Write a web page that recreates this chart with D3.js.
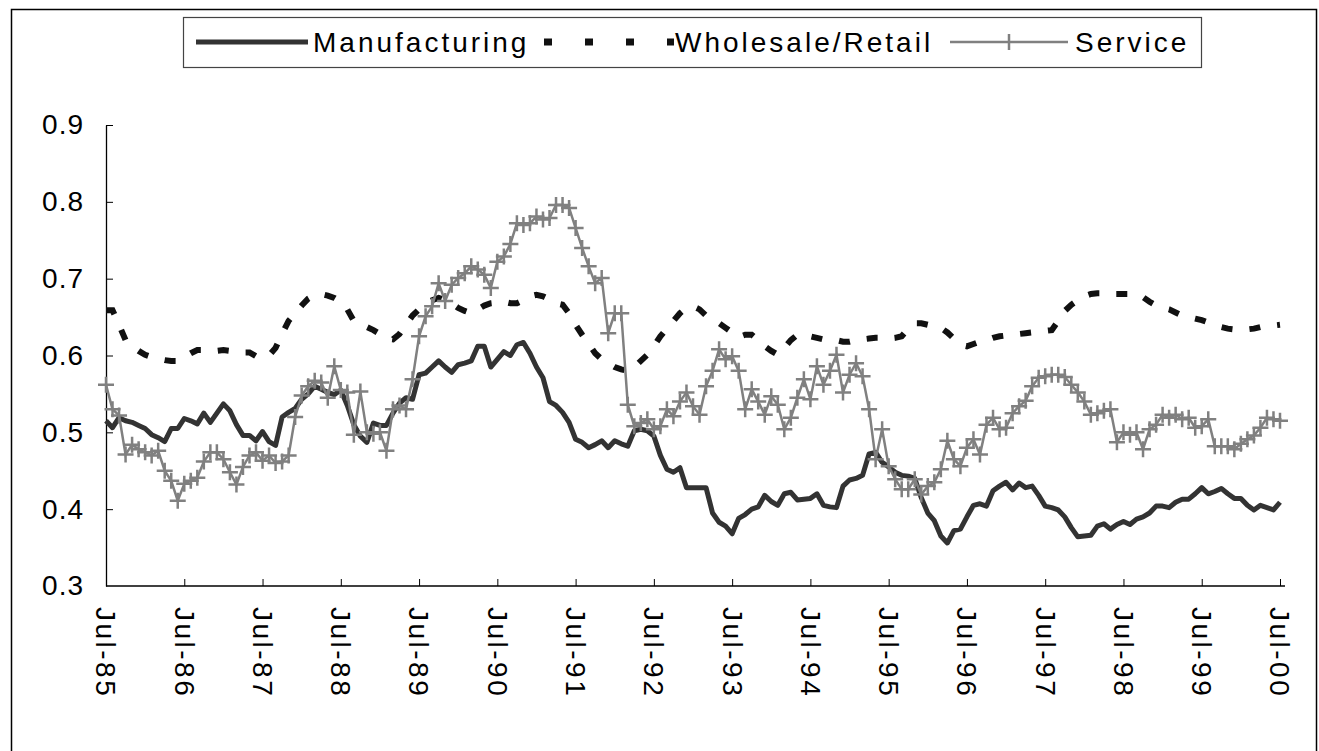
<!DOCTYPE html>
<html>
<head>
<meta charset="utf-8">
<script src="https://cdn.jsdelivr.net/npm/d3@7"></script>
<style>
  body { margin: 0; background: #fff; }
  svg text { font-family: "Liberation Sans", Arial, sans-serif; fill: #000; }
</style>
</head>
<body>
<div id="chart"></div>
<script>
// monthly values, Jul-85 .. Jul-00
var yearLabels = ["Jul-85","Jul-86","Jul-87","Jul-88","Jul-89","Jul-90","Jul-91","Jul-92",
                  "Jul-93","Jul-94","Jul-95","Jul-96","Jul-97","Jul-98","Jul-99","Jul-00"];
var yTicks = [0.3, 0.4, 0.5, 0.6, 0.7, 0.8, 0.9];

var manufacturing = [
  0.515,0.506,0.519,0.515,0.513,0.509,0.505,0.497,0.493,0.488,
  0.505,0.505,0.518,0.515,0.511,0.525,0.513,0.525,0.537,0.528,
  0.510,0.496,0.496,0.489,0.501,0.488,0.483,0.520,0.526,0.531,
  0.543,0.550,0.560,0.556,0.552,0.549,0.555,0.535,0.510,0.495,
  0.487,0.512,0.509,0.509,0.525,0.538,0.545,0.543,0.575,0.577,
  0.585,0.593,0.585,0.578,0.588,0.590,0.593,0.612,0.612,0.585,
  0.595,0.605,0.600,0.614,0.617,0.603,0.585,0.571,0.540,0.535,
  0.526,0.513,0.491,0.487,0.480,0.484,0.489,0.480,0.489,0.485,
  0.482,0.502,0.504,0.502,0.495,0.470,0.452,0.448,0.454,0.428,
  0.428,0.428,0.428,0.395,0.383,0.378,0.368,0.388,0.393,0.400,
  0.403,0.418,0.410,0.405,0.420,0.422,0.412,0.413,0.414,0.420,
  0.405,0.403,0.402,0.430,0.438,0.440,0.444,0.472,0.474,0.461,
  0.455,0.448,0.444,0.443,0.440,0.415,0.395,0.385,0.365,0.356,
  0.372,0.374,0.390,0.405,0.407,0.404,0.424,0.430,0.435,0.425,
  0.434,0.428,0.430,0.418,0.404,0.402,0.399,0.390,0.376,0.364,
  0.365,0.366,0.378,0.381,0.374,0.380,0.384,0.380,0.387,0.390,
  0.395,0.404,0.404,0.402,0.409,0.413,0.413,0.420,0.428,0.420,
  0.423,0.427,0.420,0.414,0.414,0.405,0.399,0.405,0.402,0.399,
  0.409
];

var wholesaleRetail = [
  0.659,0.659,0.640,0.620,0.612,0.606,0.601,0.598,0.596,0.594,
  0.593,0.593,0.598,0.603,0.607,0.607,0.606,0.606,0.607,0.606,
  0.605,0.604,0.604,0.599,0.598,0.600,0.610,0.628,0.645,0.655,
  0.665,0.674,0.679,0.680,0.678,0.675,0.670,0.660,0.645,0.640,
  0.637,0.633,0.628,0.622,0.621,0.628,0.640,0.652,0.660,0.668,
  0.672,0.675,0.672,0.668,0.662,0.658,0.655,0.660,0.665,0.668,
  0.669,0.670,0.668,0.668,0.672,0.677,0.679,0.677,0.673,0.668,
  0.666,0.655,0.640,0.627,0.615,0.603,0.595,0.590,0.585,0.582,
  0.580,0.585,0.593,0.601,0.612,0.625,0.635,0.645,0.655,0.662,
  0.664,0.660,0.652,0.646,0.642,0.636,0.630,0.624,0.627,0.627,
  0.620,0.612,0.606,0.601,0.610,0.620,0.627,0.627,0.625,0.623,
  0.621,0.621,0.620,0.618,0.618,0.620,0.621,0.622,0.623,0.623,
  0.622,0.623,0.625,0.635,0.642,0.642,0.640,0.638,0.636,0.630,
  0.622,0.614,0.612,0.615,0.618,0.620,0.623,0.625,0.626,0.627,
  0.628,0.629,0.630,0.631,0.632,0.633,0.645,0.658,0.666,0.672,
  0.677,0.680,0.681,0.681,0.680,0.680,0.680,0.680,0.679,0.676,
  0.670,0.665,0.662,0.660,0.656,0.652,0.650,0.648,0.646,0.643,
  0.640,0.637,0.635,0.634,0.634,0.634,0.635,0.637,0.638,0.639,
  0.640
];

var service = [
  0.562,0.530,0.522,0.471,0.484,0.478,0.474,0.470,0.476,0.450,
  0.437,0.411,0.433,0.437,0.441,0.462,0.474,0.474,0.465,0.448,
  0.432,0.455,0.470,0.474,0.463,0.470,0.460,0.462,0.470,0.520,
  0.548,0.560,0.567,0.565,0.545,0.586,0.555,0.552,0.497,0.553,
  0.500,0.498,0.500,0.476,0.530,0.535,0.530,0.569,0.625,0.651,
  0.664,0.694,0.671,0.692,0.701,0.707,0.716,0.712,0.705,0.688,
  0.722,0.729,0.745,0.772,0.770,0.772,0.781,0.777,0.779,0.796,
  0.796,0.792,0.766,0.740,0.716,0.694,0.701,0.629,0.655,0.655,
  0.536,0.508,0.512,0.517,0.504,0.508,0.530,0.521,0.540,0.552,
  0.534,0.523,0.560,0.580,0.608,0.595,0.599,0.580,0.530,0.556,
  0.540,0.523,0.547,0.536,0.504,0.519,0.545,0.569,0.543,0.586,
  0.562,0.580,0.601,0.552,0.575,0.590,0.573,0.530,0.465,0.504,
  0.456,0.439,0.426,0.426,0.439,0.419,0.430,0.435,0.452,0.489,
  0.465,0.456,0.480,0.491,0.471,0.510,0.519,0.504,0.506,0.525,
  0.534,0.541,0.560,0.571,0.573,0.575,0.575,0.572,0.562,0.552,
  0.540,0.523,0.525,0.528,0.530,0.487,0.500,0.497,0.500,0.478,
  0.504,0.510,0.523,0.519,0.523,0.517,0.519,0.506,0.508,0.517,
  0.482,0.482,0.482,0.478,0.485,0.491,0.496,0.506,0.519,0.517,
  0.515
];

var W = 1319, H = 751;
var plot = {left: 106, right: 1280, top: 125, bottom: 586};

var svg = d3.select("#chart")
    .append("svg")
        .attr("width", W)
        .attr("height", H);

// outer frame
svg.append("rect")
    .attr("x", 11.5).attr("y", 9.5)
    .attr("width", 1305).attr("height", 800)
    .attr("fill", "none")
    .attr("stroke", "#000")
    .attr("stroke-width", 1.5);

var x = d3.scaleLinear().domain([0, manufacturing.length - 1]).range([plot.left, plot.right]);
var y = d3.scaleLinear().domain([0.3, 0.9]).range([plot.bottom, plot.top]);

// y axis, ticks pointing inward
var yAxis = svg.append("g")
    .attr("transform", "translate(" + plot.left + ",0)")
    .call(d3.axisLeft(y).tickValues(yTicks).tickSizeInner(-7).tickSizeOuter(0)
        .tickFormat(d3.format(".1f")).tickPadding(22));
yAxis.select(".domain").attr("stroke", "#000").attr("stroke-width", 1.3);
yAxis.selectAll(".tick line").attr("stroke", "#000").attr("stroke-width", 1);
yAxis.selectAll(".tick line").filter(function(d) { return d === 0.3; }).remove();
yAxis.selectAll("text")
    .style("font-size", "28px")
    .style("letter-spacing", "1px");

// x axis, year ticks
var xAxis = svg.append("g")
    .attr("transform", "translate(0," + plot.bottom + ")")
    .call(d3.axisBottom(x)
        .tickValues(yearLabels.map(function(d, i) { return i * 12; }))
        .tickSizeInner(-7).tickSizeOuter(0)
        .tickFormat(function(d, i) { return yearLabels[i]; }));
xAxis.select(".domain")
    .attr("d", "M" + plot.left + ",0H" + (plot.right + 5))
    .attr("stroke", "#000").attr("stroke-width", 1.3);
xAxis.selectAll(".tick line").attr("stroke", "#000").attr("stroke-width", 1);
xAxis.selectAll(".tick line").filter(function(d) { return d === 0; }).remove();
xAxis.selectAll("text")
    .attr("transform", "rotate(90)")
    .attr("x", 21)
    .attr("y", 0)
    .attr("dy", "0.36em")
    .attr("text-anchor", "start")
    .style("font-size", "28px")
    .style("letter-spacing", "2.5px");

var line = d3.line()
    .x(function(d, i) { return x(i); })
    .y(function(d) { return y(d); });

var series = svg.append("g").classed("series", true);

series.append("path")
    .datum(manufacturing)
    .attr("d", line)
    .attr("fill", "none")
    .attr("stroke", "#333")
    .attr("stroke-width", 5)
    .attr("stroke-linejoin", "round");

series.append("path")
    .datum(wholesaleRetail)
    .attr("d", line)
    .attr("fill", "none")
    .attr("stroke", "#111")
    .attr("stroke-width", 6)
    .attr("stroke-dasharray", "11,17");

series.append("path")
    .datum(service)
    .attr("d", line)
    .attr("fill", "none")
    .attr("stroke", "#808080")
    .attr("stroke-width", 2.5);

var plus = d3.symbol().type(d3.symbolCross).size(0);
series.selectAll(".marker")
    .data(service)
    .enter()
    .append("path")
        .classed("marker", true)
        .attr("d", "M-8,0H8M0,-8V8")
        .attr("transform", function(d, i) { return "translate(" + x(i) + "," + y(d) + ")"; })
        .attr("stroke", "#808080")
        .attr("stroke-width", 2.5);

// legend
var legend = svg.append("g").classed("legend", true);
legend.append("rect")
    .attr("x", 183.5).attr("y", 17.5)
    .attr("width", 1018).attr("height", 50)
    .attr("fill", "#fff")
    .attr("stroke", "#444")
    .attr("stroke-width", 1.2);

var ly = 42;
legend.append("line")
    .attr("x1", 196).attr("x2", 308).attr("y1", ly).attr("y2", ly)
    .attr("stroke", "#333").attr("stroke-width", 5);
legend.append("line")
    .attr("x1", 544).attr("x2", 674).attr("y1", ly).attr("y2", ly)
    .attr("stroke", "#111").attr("stroke-width", 7)
    .attr("stroke-dasharray", "8,33");
legend.append("line")
    .attr("x1", 950).attr("x2", 1068).attr("y1", ly).attr("y2", ly)
    .attr("stroke", "#808080").attr("stroke-width", 2.5);
legend.append("path")
    .attr("d", "M1009," + (ly - 8) + "V" + (ly + 8))
    .attr("stroke", "#808080").attr("stroke-width", 2.5);

var legendText = [
    {label: "Manufacturing", x: 313},
    {label: "Wholesale/Retail", x: 675},
    {label: "Service", x: 1075}
];
legend.selectAll(".legend-text")
    .data(legendText)
    .enter()
    .append("text")
        .classed("legend-text", true)
        .attr("x", function(d) { return d.x; })
        .attr("y", ly)
        .attr("dy", "0.36em")
        .style("font-size", "28px")
        .style("letter-spacing", "3px")
        .text(function(d) { return d.label; });
</script>
</body>
</html>
